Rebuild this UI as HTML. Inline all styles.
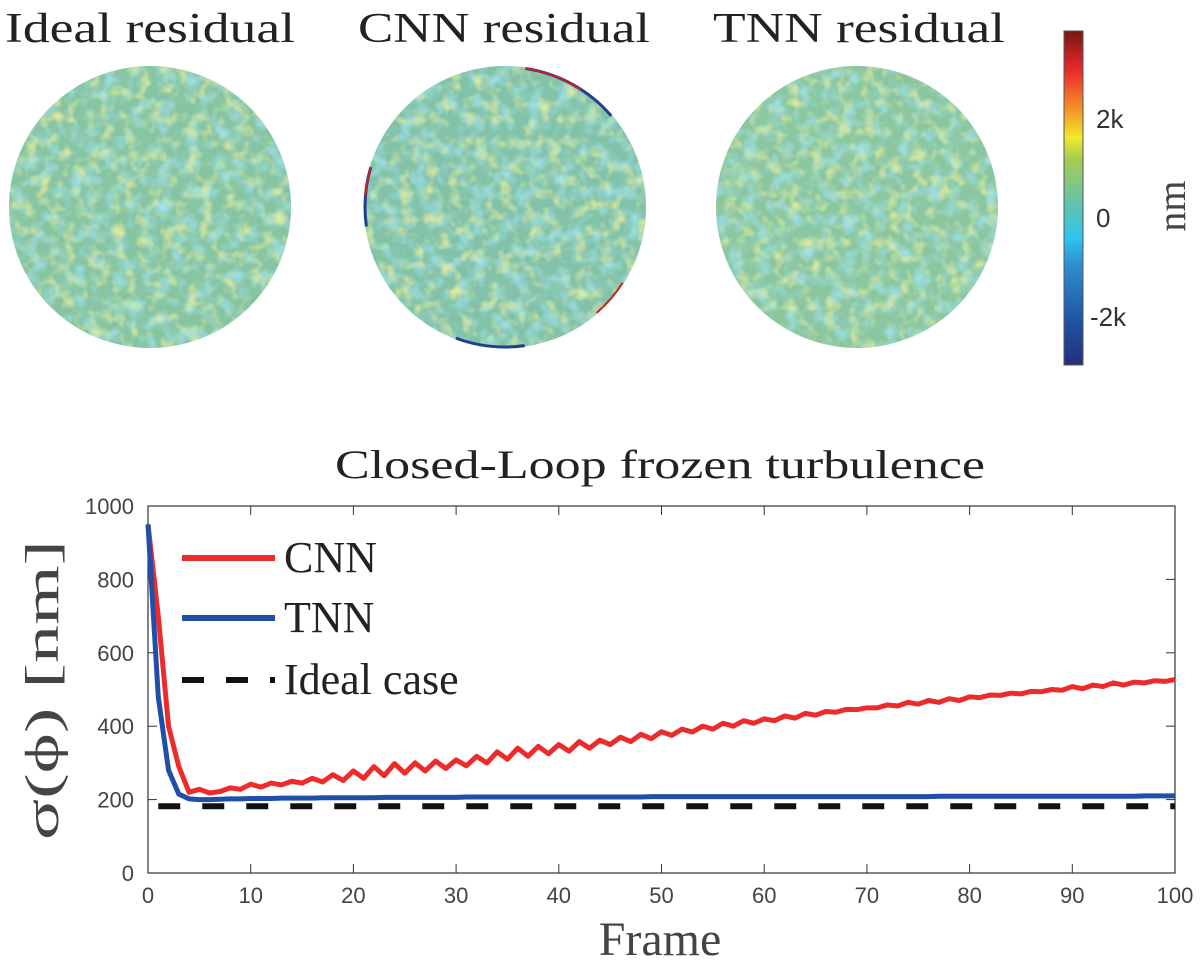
<!DOCTYPE html>
<html><head><meta charset="utf-8"><style>
html,body{margin:0;padding:0;background:#fff;}
svg{display:block;}
</style></head><body>
<svg id="fig" width="1200" height="968" viewBox="0 0 1200 968">
<defs>
<filter id="noise" x="0" y="0" width="100%" height="100%">
<feTurbulence type="fractalNoise" baseFrequency="0.07" numOctaves="2" seed="3" result="t"/>
<feColorMatrix in="t" type="matrix" values="0 0 0 0 0.35  0 0 0 0 0.76  0 0 0 0 0.85  0 0 0 -2.2 1.25" result="blue"/>
<feComposite in="blue" in2="SourceGraphic" operator="in"/>
</filter>
<filter id="noise2" x="0" y="0" width="100%" height="100%">
<feTurbulence type="fractalNoise" baseFrequency="0.08" numOctaves="2" seed="9" result="t"/>
<feColorMatrix in="t" type="matrix" values="0 0 0 0 0.72  0 0 0 0 0.82  0 0 0 0 0.35  0 0 0 -2.5 1.3" result="y"/>
<feComposite in="y" in2="SourceGraphic" operator="in"/>
</filter>
<linearGradient id="cbar" x1="0" y1="1" x2="0" y2="0">
<stop offset="0" stop-color="#262f7a"/><stop offset="0.12" stop-color="#1f4fa0"/>
<stop offset="0.3" stop-color="#2e8fd0"/><stop offset="0.38" stop-color="#2ec3ee"/>
<stop offset="0.5" stop-color="#6cc5a0"/><stop offset="0.62" stop-color="#a8cc50"/>
<stop offset="0.68" stop-color="#f2ea2a"/><stop offset="0.75" stop-color="#f6a22a"/>
<stop offset="0.88" stop-color="#ec2a2a"/><stop offset="1" stop-color="#7a1515"/>
</linearGradient>
</defs>
<g font-family="'Liberation Serif',serif" font-size="42" fill="#222">
<text x="5" y="42" textLength="290" lengthAdjust="spacingAndGlyphs">Ideal residual</text>
<text x="358" y="42" textLength="292" lengthAdjust="spacingAndGlyphs">CNN residual</text>
<text x="713" y="42" textLength="292" lengthAdjust="spacingAndGlyphs">TNN residual</text>
</g>
<g>
<circle cx="150" cy="207" r="141" fill="#86c4a2"/>
<circle cx="150" cy="207" r="141" fill="#fff" filter="url(#noise)"/>
<circle cx="150" cy="207" r="141" fill="#fff" filter="url(#noise2)"/>
</g>
<g>
<circle cx="505" cy="207" r="141" fill="#82c2a8"/>
<circle cx="505" cy="207" r="141" fill="#fff" filter="url(#noise)"/>
<circle cx="505" cy="207" r="141" fill="#fff" filter="url(#noise2)"/>
<circle cx="505" cy="207" r="140" fill="none" stroke="#1f3f90" stroke-width="3" stroke-dasharray="0 200 70 150 60 200 100 300"/>
<circle cx="505" cy="207" r="140" fill="none" stroke="#c82020" stroke-width="2" stroke-dasharray="0 80 40 330 30 200 60 300"/>
</g>
<g>
<circle cx="857" cy="207" r="141" fill="#8ac6a0"/>
<circle cx="857" cy="207" r="141" fill="#fff" filter="url(#noise)"/>
<circle cx="857" cy="207" r="141" fill="#fff" filter="url(#noise2)"/>
</g>
<g>
<rect x="1064" y="31" width="19" height="334" fill="url(#cbar)" stroke="#555" stroke-width="1"/>
<g font-family="'Liberation Sans',sans-serif" font-size="26" fill="#333">
<text x="1096" y="128">2k</text><text x="1096" y="227">0</text><text x="1090" y="326">-2k</text>
</g>
<text transform="translate(1185,206) rotate(-90)" text-anchor="middle" font-family="'Liberation Serif',serif" font-size="40" fill="#444">nm</text>
</g>
<g id="chart"></g>
</svg>
<script>
const frames = [];
for (let i = 0; i <= 100; i++) frames.push(i);
const cnnValues = [950,700,400,290,220,228,218,222,232,228,242,234,245,240,250,245,258,248,268,252,278,258,290,265,298,272,300,278,305,285,308,292,318,300,330,310,340,318,345,325,350,332,358,340,362,350,370,358,378,366,385,375,392,384,400,392,408,400,415,408,420,415,428,422,435,430,440,438,446,445,450,450,458,455,465,460,470,465,475,470,480,478,485,484,490,488,495,494,500,498,508,502,512,508,518,512,520,518,524,522,527];
const tnnValues = [950,480,280,215,202,200,200,201,202,202,203,203,203,204,204,204,204,205,205,205,205,205,205,206,206,206,206,206,206,206,206,207,207,207,207,207,207,207,207,207,207,207,207,207,207,207,207,207,207,208,208,208,208,208,208,208,208,208,208,208,208,208,208,208,208,208,208,208,208,208,208,208,208,208,208,208,208,209,209,209,209,209,209,209,209,209,209,209,209,209,209,209,209,209,209,209,209,210,210,210,210];
const idealValue = [182];
const xTicks = [0,10,20,30,40,50,60,70,80,90,100];
const yTicks = [0,200,400,600,800,1000];
const NS = 'http://www.w3.org/2000/svg';
const L=148,R=1175,T=506,B=873;
const sx = v => L + (v-0)/(100-0)*(R-L);
const sy = v => B - (v-0)/(1000-0)*(B-T);
const g = document.getElementById('chart');
function mk(tag, attrs, parent){const e=document.createElementNS(NS,tag);for(const k in attrs)e.setAttribute(k,attrs[k]);(parent||g).appendChild(e);return e;}
const title = mk('text',{x:335,y:478,textLength:650,lengthAdjust:'spacingAndGlyphs','font-family':"'Liberation Serif',serif",'font-size':40,fill:'#222'});
title.textContent='Closed-Loop frozen turbulence';


const box = mk('rect',{x:L,y:T,width:R-L,height:B-T,fill:'none',stroke:'#333','stroke-width':1.2});


xTicks.forEach(v=>{
  mk('line',{x1:sx(v),x2:sx(v),y1:B,y2:B-9,stroke:'#333'});
  mk('line',{x1:sx(v),x2:sx(v),y1:T,y2:T+9,stroke:'#333'});
  const t=mk('text',{x:sx(v),y:B+30,'text-anchor':'middle','font-family':"'Liberation Sans',sans-serif",'font-size':22,fill:'#444'});
  t.textContent=v;
  
  
});
yTicks.forEach(v=>{
  mk('line',{x1:L,x2:L+9,y1:sy(v),y2:sy(v),stroke:'#333'});
  mk('line',{x1:R,x2:R-9,y1:sy(v),y2:sy(v),stroke:'#333'});
  const t=mk('text',{x:L-14,y:sy(v)+8,'text-anchor':'end','font-family':"'Liberation Sans',sans-serif",'font-size':22,fill:'#444'});
  t.textContent=v;
  
  
});
const xl=mk('text',{x:660,y:955,'text-anchor':'middle','font-family':"'Liberation Serif',serif",'font-size':48,fill:'#444'});
xl.textContent='Frame';


const yl=mk('text',{transform:'translate(58,690) rotate(-90)','text-anchor':'middle',textLength:300,lengthAdjust:'spacingAndGlyphs','font-family':"'Liberation Serif',serif",'font-size':48,fill:'#444'});
yl.textContent='σ(ϕ) [nm]';


const ideal=mk('line',{x1:sx(1),x2:sx(100),y1:sy(idealValue[0]),y2:sy(idealValue[0]),stroke:'#111','stroke-width':6,'stroke-dasharray':'22 22'});


function line(vals,color,name){
  const p=mk('polyline',{points:vals.map((v,i)=>sx(frames[i])+','+sy(v)).join(' '),fill:'none',stroke:color,'stroke-width':5,'stroke-linejoin':'round'});
  
  
}
line(cnnValues,'#ee2b2b','cnn-line');
line(tnnValues,'#1f4fa8','tnn-line');
const leg=mk('g',{});


const entries=[['CNN','#ee2b2b',null,572],['TNN','#1f4fa8',null,632],['Ideal case','#111','22 22',694]];
entries.forEach(e=>{
  const ln=mk('line',{x1:182,x2:275,y1:e[3]-14,y2:e[3]-14,stroke:e[1],'stroke-width':6},leg);
  if(e[2]){ln.setAttribute('stroke-dasharray','22 22');}
  const t=mk('text',{x:284,y:e[3],'font-family':"'Liberation Serif',serif",'font-size':44,fill:'#222'},leg);
  t.textContent=e[0];
  
  
});
</script>
</body></html>
